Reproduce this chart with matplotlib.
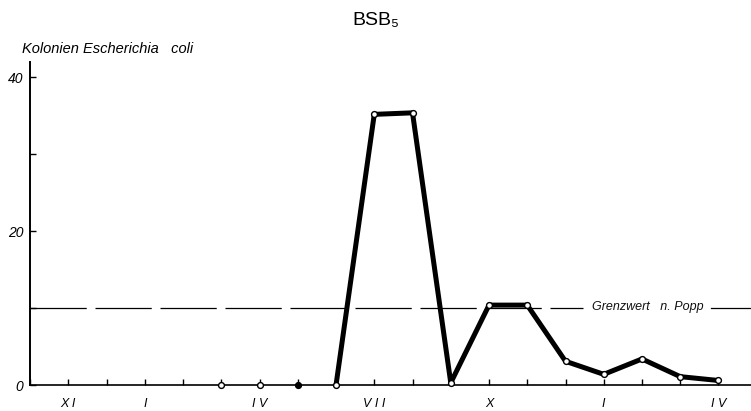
import matplotlib
matplotlib.use("Agg")
import matplotlib.pyplot as plt
from matplotlib.ticker import FixedLocator, NullFormatter

plt.rcParams['font.family'] = ['Liberation Sans', 'DejaVu Sans']

# month positions (0 = X of first year)
month_idx = [5, 6, 7, 8, 9, 10, 11, 12, 13, 14, 15, 16, 17, 18]
coli_values = [0, 0, 0, 0, 35.2, 35.4, 0.3, 10.4, 10.4, 3.1, 1.4, 3.4, 1.1, 0.6]
filled_marker = [False, False, True, False, False, False, False, False, False, False, False, False, False, False]

label_positions = [1, 3, 6, 9, 12, 15, 18]
label_texts = ["X I", "I", "I V", "V I I", "X", "I", "I V"]
ytick_values = [0, 20, 40]
yminor_values = [10, 30]
grenzwert = 10

fig = plt.figure(figsize=(7.51, 4.11), dpi=100)
ax = fig.add_axes([0.040, 0.063, 0.960, 0.786])
ax.set_xlim(0, 18.85)
ax.set_ylim(0, 42)

for s in ['top', 'right']:
    ax.spines[s].set_visible(False)
ax.spines['left'].set_linewidth(1.4)
ax.spines['bottom'].set_linewidth(1.2)

# limit line
ax.plot([0, 14.45], [grenzwert, grenzwert], color='black', lw=0.9,
        dashes=(45, 7), solid_capstyle='butt')
ax.plot([17.8, 18.85], [grenzwert, grenzwert], color='black', lw=0.9)
ax.text(16.15, grenzwert + 0.2, "Grenzwert   n. Popp", style='italic', fontsize=9,
        ha='center', va='center', color='#111111')

# data line (thick part from the last zero point on)
start = 3
ax.plot(month_idx[start:], coli_values[start:], color='black', lw=3.6,
        solid_joinstyle='round', solid_capstyle='round', zorder=3)
for xi, yi, f in zip(month_idx, coli_values, filled_marker):
    ax.plot(xi, yi, marker='o', ms=4.2, mew=1.0, mec='black',
            mfc='black' if f else 'white', zorder=4, clip_on=False)

ax.xaxis.set_major_locator(FixedLocator(label_positions))
ax.set_xticklabels(label_texts, style='italic', fontsize=9)
ax.xaxis.set_minor_locator(FixedLocator(list(range(0, 19))))
ax.tick_params(axis='x', which='both', direction='in', length=4, width=1, pad=9)

ax.yaxis.set_major_locator(FixedLocator(ytick_values))
ax.set_yticklabels([str(v) for v in ytick_values], style='italic', fontsize=10)
ax.yaxis.set_minor_locator(FixedLocator(yminor_values))
ax.yaxis.set_minor_formatter(NullFormatter())
ax.tick_params(axis='y', which='both', direction='in', length=4, width=1, pad=5)

fig.text(0.029, 0.880, "Kolonien Escherichia   coli", style='italic',
         fontsize=10.5, ha='left', va='center')
fig.text(0.500, 0.950, "BSB₅", fontsize=14, ha='center', va='center')

fig.savefig("out.png", dpi=100)
